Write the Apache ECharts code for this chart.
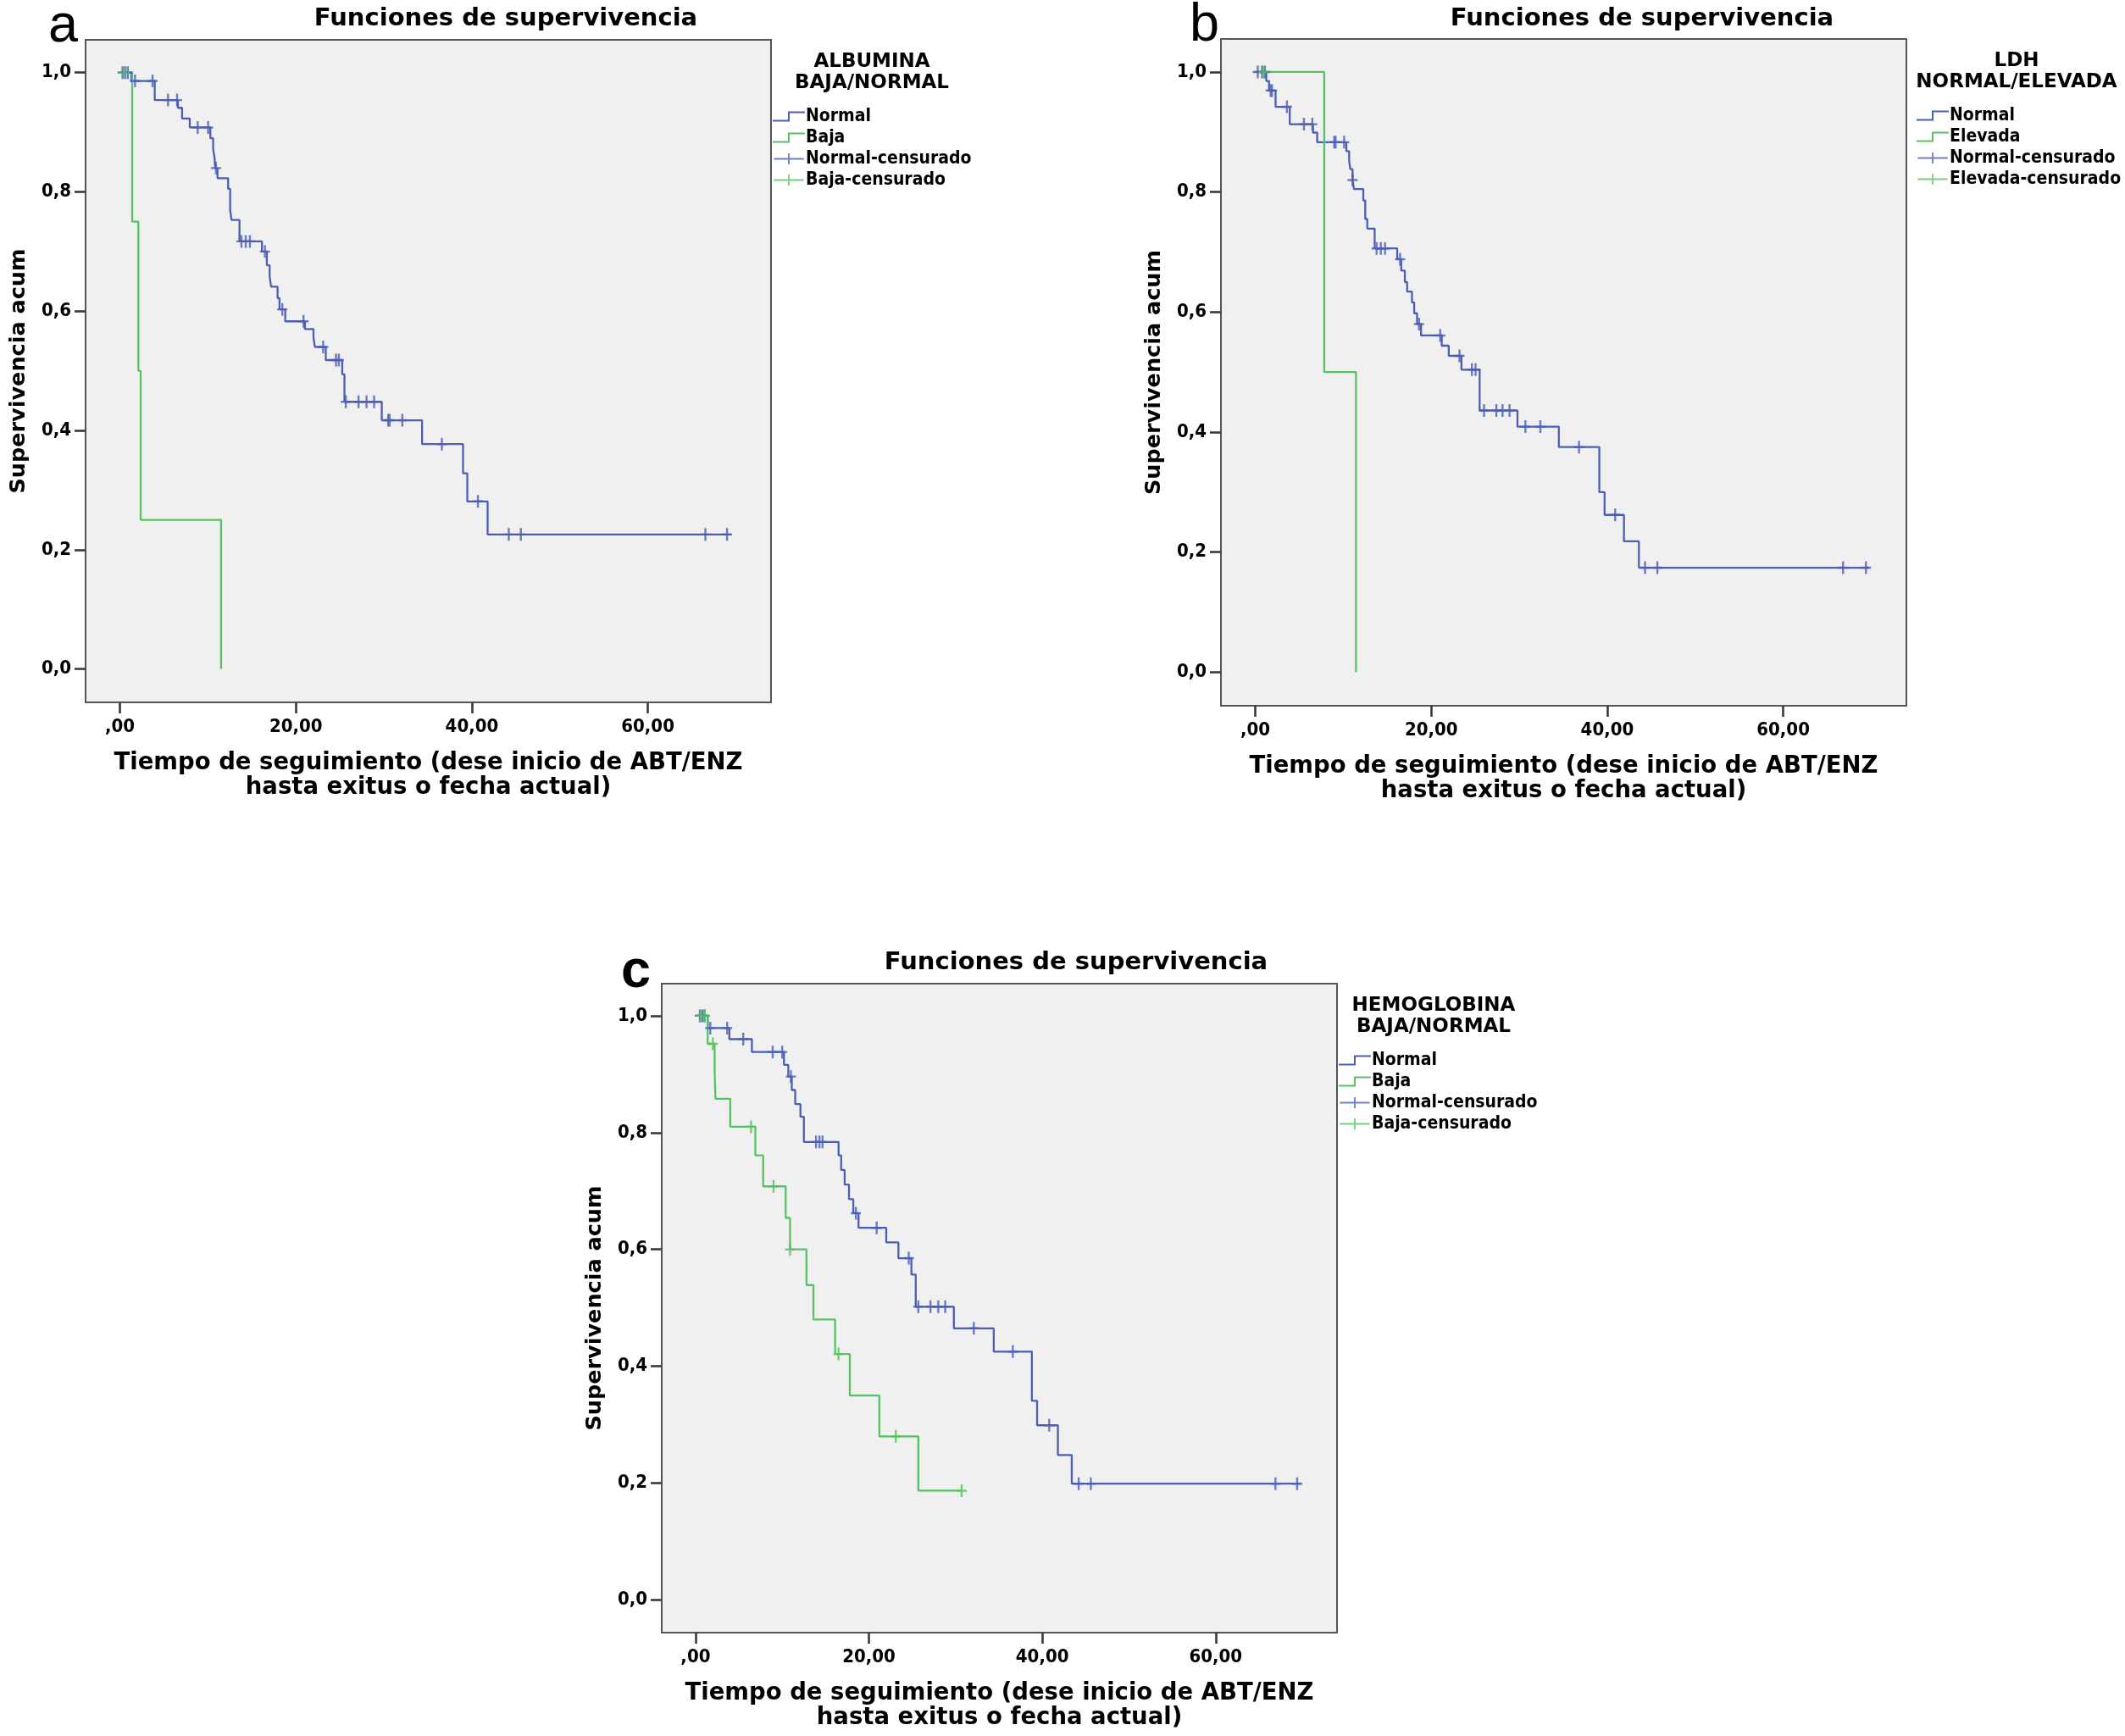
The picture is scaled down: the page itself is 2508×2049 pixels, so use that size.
<!DOCTYPE html>
<html>
<head>
<meta charset="utf-8">
<script src="https://cdn.jsdelivr.net/npm/echarts@6/dist/echarts.min.js"></script>
<style>
html,body{margin:0;padding:0;background:#ffffff;}
#chart{width:2508px;height:2049px;}
</style>
</head>
<body>
<div id="chart"></div>
<script>
// ---------- tick labels ----------
const xTicks = [0, 20, 40, 60];
const yTicks = [0, 0.2, 0.4, 0.6, 0.8, 1.0];

// ---------- panel a : ALBUMINA ----------
const aNormalSteps = [[0,1],[1.3,0.986],[3.96,0.954],[6.59,0.941],[7.07,0.923],[7.94,0.908],[10.28,0.890],[10.6,0.872],[10.76,0.857],[10.83,0.840],[11.09,0.823],[12.3,0.805],[12.53,0.769],[12.69,0.753],[13.59,0.717],[16.15,0.700],[16.7,0.677],[17.02,0.658],[17.18,0.641],[17.92,0.622],[18.14,0.603],[18.79,0.583],[21.03,0.570],[22.0,0.556],[22.16,0.540],[23.4,0.518],[25.27,0.494],[25.52,0.448],[29.76,0.417],[34.34,0.377],[39.0,0.328],[39.48,0.281],[41.79,0.2255],[69.5,0.2255]];
const aNormalCens = [[0.3,1],[0.6,1],[0.9,1],[1.72,0.986],[3.71,0.986],[5.47,0.954],[6.5,0.954],[8.84,0.908],[10.03,0.908],[10.92,0.840],[13.81,0.717],[14.3,0.717],[14.78,0.717],[16.48,0.700],[18.46,0.603],[20.87,0.583],[23.1,0.540],[24.56,0.518],[24.88,0.518],[25.68,0.448],[27.12,0.448],[28.03,0.448],[28.89,0.448],[30.49,0.417],[30.65,0.417],[32.1,0.417],[36.59,0.377],[40.69,0.281],[44.2,0.2255],[45.57,0.2255],[66.54,0.2255],[69.0,0.2255]];
const aBajaSteps = [[0,1],[1.4,0.75],[2.1,0.5],[2.36,0.25],[11.5,0]];
const aBajaCens = [[0.5,1]];

// ---------- panel b : LDH ----------
const bNormalSteps = [[0,1],[1.25,0.985],[1.57,0.969],[2.31,0.942],[3.92,0.913],[6.56,0.899],[7.04,0.883],[10.35,0.868],[10.67,0.852],[10.8,0.838],[11.06,0.820],[11.22,0.805],[12.28,0.786],[12.5,0.755],[12.73,0.739],[13.57,0.706],[16.13,0.688],[16.59,0.669],[17.0,0.650],[17.26,0.634],[17.81,0.616],[18.06,0.598],[18.39,0.580],[18.84,0.561],[21.19,0.544],[21.99,0.527],[23.43,0.504],[25.5,0.436],[29.8,0.409],[34.5,0.375],[39.1,0.300],[39.7,0.262],[41.9,0.218],[43.6,0.174],[69.8,0.174]];
const bNormalCens = [[0.29,1],[0.77,1],[1.09,1],[1.75,0.969],[1.9,0.969],[3.6,0.942],[5.53,0.913],[6.49,0.913],[8.97,0.883],[9.13,0.883],[10.1,0.883],[11.06,0.820],[13.79,0.706],[14.27,0.706],[14.75,0.706],[16.46,0.688],[18.61,0.580],[21.02,0.561],[23.21,0.527],[24.62,0.504],[25.04,0.504],[26.0,0.436],[27.4,0.436],[28.1,0.436],[28.9,0.436],[30.7,0.409],[32.4,0.409],[36.8,0.375],[40.9,0.262],[44.3,0.174],[45.7,0.174],[66.8,0.174],[69.4,0.174]];
const bElevadaSteps = [[0,1],[7.84,0.5],[11.45,0]];
const bElevadaCens = [[0.93,1]];

// ---------- panel c : HEMOGLOBINA ----------
const cNormalSteps = [[0,1],[1.4,0.979],[3.9,0.960],[6.5,0.938],[10.2,0.916],[10.7,0.896],[11.1,0.873],[11.5,0.849],[12.1,0.827],[12.5,0.784],[16.5,0.761],[16.8,0.736],[17.2,0.711],[17.7,0.686],[18.2,0.662],[18.8,0.637],[22.0,0.612],[23.4,0.585],[24.9,0.557],[25.4,0.502],[29.8,0.465],[34.4,0.425],[38.8,0.341],[39.4,0.299],[41.8,0.248],[43.4,0.199],[69.8,0.199]];
const cNormalCens = [[0.5,1],[0.8,1],[1.05,1],[1.7,0.979],[3.65,0.979],[5.5,0.960],[8.9,0.938],[10.0,0.938],[11.0,0.896],[13.9,0.784],[14.3,0.784],[14.65,0.784],[18.5,0.662],[20.9,0.637],[24.6,0.585],[25.7,0.502],[27.1,0.502],[28.0,0.502],[28.8,0.502],[32.1,0.465],[36.6,0.425],[40.8,0.299],[44.2,0.199],[45.6,0.199],[66.9,0.199],[69.4,0.199]];
const cBajaSteps = [[0,1],[1.4,0.952],[2.2,0.906],[2.3,0.858],[4.0,0.810],[6.9,0.761],[7.8,0.708],[10.4,0.654],[10.9,0.600],[12.8,0.539],[13.6,0.480],[16.1,0.421],[17.8,0.350],[21.2,0.280],[25.7,0.187],[30.7,0.187]];
const cBajaCens = [[0.6,1],[1.05,1],[2.0,0.952],[6.4,0.810],[9.0,0.708],[10.9,0.600],[16.5,0.421],[23.1,0.280],[30.7,0.187]];

// ---------- texts ----------
const mainTitle = 'Funciones de supervivencia';
const xName = 'Tiempo de seguimiento (dese inicio de ABT/ENZ\nhasta exitus o fecha actual)';
const yName = 'Supervivencia acum';

// ---------- styling / layout (not data) ----------
const BLUE = '#4a5eb6';
const GREEN = '#56c264';
const FONT_C = "'DejaVu Sans Condensed','Liberation Sans Narrow','DejaVu Sans',sans-serif";
const FONT_W = "'DejaVu Sans','Noto Sans',sans-serif";
const PLUS = 'path://M0,6.3 L12,6.3 L12,8.7 L0,8.7 Z M4.8,0 L7.2,0 L7.2,15 L4.8,15 Z';
const STEP_ICON = 'path://M0,10 L18,10 L18,0 L38,0 L38,2 L20,2 L20,12 L0,12 Z';
const PLUS_ICON = 'path://M0,6 L38,6 L38,8 L0,8 Z M18,0 L20,0 L20,14 L18,14 Z';

const panels = [
  { letter: 'a', grid: {left:101, top:47, width:809, height:782}, titleX: 597, titleY: 22,
    legTitle: 'ALBUMINA\nBAJA/NORMAL', legTitleX: 1029, legLeft: 912, letterX: 57, letterDY: 16,
    g1: 'Normal', g2: 'Baja', s1: aNormalSteps, c1: aNormalCens, s2: aBajaSteps, c2: aBajaCens },
  { letter: 'b', grid: {left:1441, top:46, width:809, height:787}, titleX: 1938, titleY: 22,
    legTitle: 'LDH\nNORMAL/ELEVADA', legTitleX: 2380, legLeft: 2262, letterX: 1404, letterDY: 16,
    g1: 'Normal', g2: 'Elevada', s1: bNormalSteps, c1: bNormalCens, s2: bElevadaSteps, c2: bElevadaCens },
  { letter: 'c', grid: {left:781, top:1161, width:797, height:766}, titleX: 1270, titleY: 1136,
    legTitle: 'HEMOGLOBINA\nBAJA/NORMAL', legTitleX: 1692, legLeft: 1580, letterX: 733, letterDY: 18,
    g1: 'Normal', g2: 'Baja', s1: cNormalSteps, c1: cNormalCens, s2: cBajaSteps, c2: cBajaCens }
];

const fmtX = v => (v === 0 ? ',00' : v.toFixed(2).replace('.', ','));
const fmtY = v => v.toFixed(1).replace('.', ',');

const grids = [], xAxes = [], yAxes = [], series = [], legends = [], graphics = [];

panels.forEach((p, i) => {
  grids.push(Object.assign({ show: true, backgroundColor: '#f0f0f0', borderColor: '#555', borderWidth: 2 }, p.grid));
  xAxes.push({
    type: 'value', gridIndex: i, min: -3.9, max: 74.0,
    axisLine: { show: true, onZero: false, lineStyle: { color: '#555', width: 2 } }, splitLine: { show: false },
    axisTick: { show: true, inside: false, length: 13, lineStyle: { color: '#3a3a3a', width: 2.6 }, customValues: xTicks },
    axisLabel: { customValues: xTicks, formatter: fmtX, margin: 18, fontSize: 22, fontWeight: 'bold', fontFamily: FONT_C, color: '#000' },
    name: xName, nameLocation: 'middle', nameGap: 57,
    nameTextStyle: { fontSize: 27.5, fontWeight: 'bold', fontFamily: FONT_W, color: '#000', lineHeight: 29 }
  });
  yAxes.push({
    type: 'value', gridIndex: i, min: -0.056, max: 1.055,
    axisLine: { show: true, onZero: false, lineStyle: { color: '#555', width: 2 } }, splitLine: { show: false },
    axisTick: { show: true, inside: false, length: 13, lineStyle: { color: '#3a3a3a', width: 2.6 }, customValues: yTicks },
    axisLabel: { customValues: yTicks, formatter: fmtY, margin: 17, fontSize: 22, fontWeight: 'bold', fontFamily: FONT_C, color: '#000' },
    name: yName, nameLocation: 'middle', nameGap: 66, nameRotate: 90,
    nameTextStyle: { fontSize: 25.5, fontWeight: 'bold', fontFamily: FONT_W, color: '#000' }
  });
  series.push({ name: p.g1, type: 'line', step: 'end', xAxisIndex: i, yAxisIndex: i, data: p.s1,
    showSymbol: false, symbol: 'none', color: BLUE, lineStyle: { color: BLUE, width: 2.3 }, z: 2 });
  series.push({ name: p.g2, type: 'line', step: 'end', xAxisIndex: i, yAxisIndex: i, data: p.s2,
    showSymbol: false, symbol: 'none', color: GREEN, lineStyle: { color: GREEN, width: 2.3 }, z: 3 });
  series.push({ name: p.g1 + '-censurado', type: 'scatter', xAxisIndex: i, yAxisIndex: i, data: p.c1,
    symbol: PLUS, symbolSize: [12, 15], itemStyle: { color: BLUE }, z: 4 });
  series.push({ name: p.g2 + '-censurado', type: 'scatter', xAxisIndex: i, yAxisIndex: i, data: p.c2,
    symbol: PLUS, symbolSize: [12, 15], itemStyle: { color: GREEN }, z: 5 });

  const gr = p.grid;
  legends.push({
    orient: 'vertical', left: p.legLeft, top: gr.top + 80, padding: 0,
    itemWidth: 38, itemHeight: 13, itemGap: 4, selectedMode: false,
    itemStyle: { borderWidth: 0 },
    textStyle: { fontSize: 21, fontWeight: 'bold', fontFamily: FONT_C, color: '#000', lineHeight: 21, padding: [0,0,0,-4] },
    data: [
      { name: p.g1, icon: STEP_ICON },
      { name: p.g2, icon: STEP_ICON },
      { name: p.g1 + '-censurado', icon: PLUS_ICON },
      { name: p.g2 + '-censurado', icon: PLUS_ICON }
    ]
  });

  graphics.push({ type: 'text', x: p.titleX, y: p.titleY,
    style: { text: mainTitle, font: 'bold 29px ' + FONT_W, fill: '#000', textAlign: 'center', textVerticalAlign: 'middle' } });
  graphics.push({ type: 'text', x: p.letterX, y: gr.top + p.letterDY,
    style: { text: p.letter, font: (p.letter === 'c' ? 'bold ' : '') + '63px "Liberation Sans", Arial, sans-serif', fill: '#000', textAlign: 'left', textVerticalAlign: 'bottom' } });
  graphics.push({ type: 'text', x: p.legTitleX, y: gr.top + 38.5,
    style: { text: p.legTitle, font: 'bold 23px ' + FONT_W, lineHeight: 25, fill: '#000', textAlign: 'center', textVerticalAlign: 'middle' } });
});

const chart = echarts.init(document.getElementById('chart'), null, { renderer: 'canvas' });
chart.setOption({
  backgroundColor: '#ffffff',
  animation: false,
  grid: grids,
  xAxis: xAxes,
  yAxis: yAxes,
  legend: legends,
  series: series,
  graphic: graphics
});
</script>
</body>
</html>
